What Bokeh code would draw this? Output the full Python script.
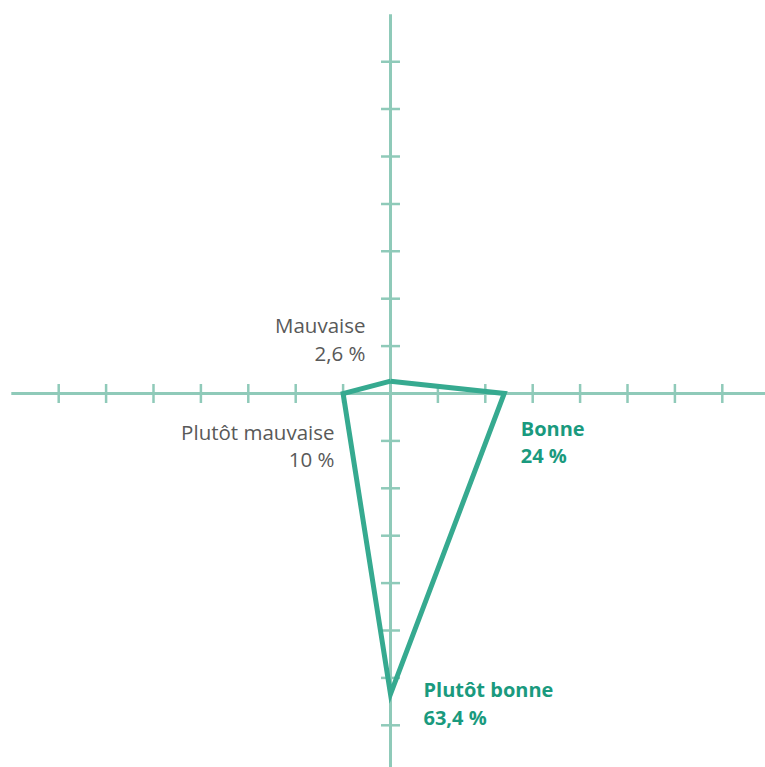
import math
from bokeh.plotting import figure
from bokeh.models import Range1d
from bokeh.core.properties import value
from bokeh.embed import file_html
from bokeh.resources import INLINE

# ---- data ----
categories = ["Mauvaise", "Bonne", "Plutôt bonne", "Plutôt mauvaise"]
values = [2.6, 24.0, 63.4, 10.0]
angles_deg = [90, 0, -90, 180]          # direction of each radar spoke
tick_values = [10, 20, 30, 40, 50, 60, 70]
axis_extent = 80

# ---- styles ----
AXIS_COLOR = "#8fcab9"
LINE_COLOR = "#36aa90"
TEAL_TEXT = "#1a9a7e"
GREY_TEXT = "#595959"
FONT = "Open Sans"
label_align = ["right", "left", "left", "right"]
label_bold = [False, True, True, False]
label_size = ["20.5px", "20px", "20px", "20.5px"]
label_dx = [-25, 16.5, 33, -8.6]
label_dy1 = [-55.7, 35, -4.2, 38.3]
label_dy2 = [-28.2, 62, 23.5, 65.7]

px_per_unit = 4.74
W, H = 765, 767
cx, cy = 390, 393  # centre in frame pixels

p = figure(width=W, height=H, output_backend="svg", toolbar_location=None,
           x_range=Range1d(-cx / px_per_unit, (W - cx) / px_per_unit),
           y_range=Range1d(-(H - cy) / px_per_unit, cy / px_per_unit),
           min_border=0, outline_line_color=None)
p.axis.visible = False
p.grid.visible = False
p.background_fill_color = "white"
p.border_fill_color = "white"

# axes cross
p.segment(x0=[-axis_extent, 0], y0=[0, -axis_extent], x1=[axis_extent, 0], y1=[0, axis_extent],
          line_color=AXIS_COLOR, line_width=3)
# ticks
tl = 2.0
tx = [t * s for t in tick_values for s in (1, -1)]
p.segment(x0=tx, y0=[-tl] * len(tx), x1=tx, y1=[tl] * len(tx), line_color=AXIS_COLOR, line_width=2.5)
p.segment(x0=[-tl] * len(tx), y0=tx, x1=[tl] * len(tx), y1=tx, line_color=AXIS_COLOR, line_width=2.5)

# polygon
xs = [round(v * math.cos(math.radians(a)), 6) for v, a in zip(values, angles_deg)]
ys = [round(v * math.sin(math.radians(a)), 6) for v, a in zip(values, angles_deg)]
p.line(xs + [xs[0]], ys + [ys[0]], line_color=LINE_COLOR, line_width=5, line_join="miter")

# labels
for i, cat in enumerate(categories):
    col = TEAL_TEXT if label_bold[i] else GREY_TEXT
    style = "bold" if label_bold[i] else "normal"
    val = f"{values[i]:g}".replace(".", ",") + " %"
    for txt, dy in ((cat, label_dy1[i]), (val, label_dy2[i])):
        p.text(x=[xs[i]], y=[ys[i]], text=[txt], x_offset=label_dx[i], y_offset=dy,
               text_align=label_align[i], text_baseline="alphabetic",
               text_font=value(FONT), text_font_size=label_size[i], text_font_style=style,
               text_color=col)

open("out.html", "w").write(file_html(p, INLINE))
